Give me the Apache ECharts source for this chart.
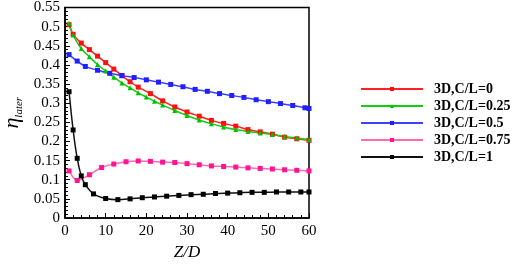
<!DOCTYPE html>
<html>
<head>
<meta charset="utf-8">
<script src="https://cdn.jsdelivr.net/npm/echarts@6/dist/echarts.min.js"></script>
<style>
  html, body { margin: 0; padding: 0; background: #fff; }
  #chart { width: 512px; height: 266px; }
</style>
</head>
<body>
<div id="chart"></div>
<script>
// series names
const names = ['3D,C/L=0', '3D,C/L=0.25', '3D,C/L=0.5', '3D,C/L=0.75', '3D,C/L=1'];

// C/L = 0
const redX = [1, 2, 4, 6, 8, 10, 12, 14, 16, 18, 21, 24, 27, 30, 33, 36, 39, 42, 45, 48, 51, 54, 57, 60];
const redY = [0.505, 0.48, 0.457, 0.44, 0.423, 0.406, 0.389, 0.372, 0.356, 0.342, 0.325, 0.306, 0.29, 0.277, 0.266, 0.255, 0.247, 0.24, 0.231, 0.225, 0.219, 0.211, 0.207, 0.203];

// C/L = 0.25
const greenX = [1, 2, 4, 6, 8, 10, 12, 14, 16, 18, 20, 22, 24, 27, 30, 33, 36, 39, 42, 45, 48, 51, 54, 57, 60];
const greenY = [0.509, 0.478, 0.443, 0.421, 0.401, 0.384, 0.368, 0.353, 0.34, 0.327, 0.316, 0.305, 0.295, 0.281, 0.268, 0.256, 0.246, 0.238, 0.231, 0.226, 0.222, 0.218, 0.213, 0.209, 0.205];

// C/L = 0.5
const blueX = [1, 3, 5, 8, 11, 14, 17, 20, 23, 26, 29, 32, 35, 38, 41, 44, 47, 50, 53, 56, 59, 60];
const blueY = [0.427, 0.41, 0.396, 0.386, 0.378, 0.372, 0.367, 0.361, 0.355, 0.349, 0.343, 0.336, 0.331, 0.325, 0.32, 0.315, 0.309, 0.304, 0.299, 0.294, 0.288, 0.286];

// C/L = 0.75
const pinkX = [1, 3, 6, 9, 12, 15, 18, 21, 24, 27, 30, 33, 36, 39, 42, 45, 48, 51, 54, 57, 60];
const pinkY = [0.123, 0.098, 0.113, 0.132, 0.141, 0.147, 0.149, 0.148, 0.146, 0.145, 0.142, 0.139, 0.136, 0.1345, 0.133, 0.131, 0.1296, 0.128, 0.126, 0.1246, 0.123];

// C/L = 1
const blackX = [1, 2, 3, 4, 5, 7, 10, 13, 16, 19, 22, 25, 28, 31, 34, 37, 40, 43, 46, 49, 52, 55, 58, 60];
const blackY = [0.33, 0.23, 0.156, 0.11, 0.087, 0.063, 0.051, 0.048, 0.05, 0.053, 0.055, 0.057, 0.059, 0.061, 0.062, 0.064, 0.065, 0.066, 0.067, 0.067, 0.068, 0.068, 0.068, 0.068];

const pairs = (xs, ys) => xs.map((x, i) => [x, ys[i]]);

const font = '"Liberation Serif", "Times New Roman", serif';

function makeLine(name, xs, ys, color, lineColor, symbol) {
  return {
    name: name,
    type: 'line',
    data: pairs(xs, ys),
    smooth: 0.3,
    symbol: symbol,
    symbolSize: 5,
    showSymbol: true,
    itemStyle: { color: color },
    lineStyle: { color: lineColor, width: 1.5 }
  };
}

const chart = echarts.init(document.getElementById('chart'), null, { renderer: 'canvas' });

chart.setOption({
  animation: false,
  backgroundColor: '#fff',
  grid: {
    left: 61, right: 203, top: 6, bottom: 38,
    show: true, borderColor: '#000', borderWidth: 1.5, backgroundColor: 'transparent'
  },
  legend: {
    orient: 'vertical',
    left: 360,
    top: 82,
    padding: 0,
    itemWidth: 62,
    itemHeight: 5,
    itemGap: 3,
    textStyle: {
      fontFamily: font, fontWeight: 'bold', fontSize: 14, color: '#000',
      lineHeight: 12, padding: [0, 0, 0, 6]
    },
    data: names
  },
  xAxis: {
    type: 'value',
    min: 0, max: 60, interval: 10,
    name: 'Z/D',
    nameLocation: 'middle',
    nameGap: 26,
    nameTextStyle: { fontFamily: font, fontStyle: 'italic', fontSize: 17, color: '#000' },
    axisLine: { lineStyle: { color: '#000', width: 1.5 } },
    axisTick: { inside: true, length: 5, lineStyle: { color: '#000' } },
    minorTick: { show: true, splitNumber: 5, length: 3, lineStyle: { color: '#000' } },
    axisLabel: { fontFamily: font, fontSize: 15, color: '#000', margin: 6 },
    splitLine: { show: false }
  },
  yAxis: {
    type: 'value',
    min: 0, max: 0.55, interval: 0.05,
    name: '{a|η}{b|later}',
    nameLocation: 'middle',
    nameRotate: 90,
    nameGap: 40,
    nameTextStyle: {
      rich: {
        a: { fontFamily: font, fontStyle: 'italic', fontSize: 22, color: '#000', lineHeight: 26 },
        b: { fontFamily: font, fontStyle: 'italic', fontSize: 11, color: '#000', verticalAlign: 'bottom', lineHeight: 16 }
      }
    },
    axisLine: { lineStyle: { color: '#000', width: 1.5 } },
    axisTick: { inside: true, length: 5, lineStyle: { color: '#000' } },
    minorTick: { show: true, splitNumber: 5, length: 3, lineStyle: { color: '#000' } },
    axisLabel: {
      fontFamily: font, fontSize: 15, color: '#000', margin: 5,
      formatter: v => String(Math.round(v * 100) / 100)
    },
    splitLine: { show: false }
  },
  series: [
    makeLine(names[0], redX, redY, '#ff1010', '#ff2020', 'rect'),
    makeLine(names[1], greenX, greenY, '#00c000', '#10d010', 'triangle'),
    makeLine(names[2], blueX, blueY, '#2020ff', '#4040ff', 'rect'),
    makeLine(names[3], pinkX, pinkY, '#ff1493', '#ff6ab4', 'rect'),
    makeLine(names[4], blackX, blackY, '#000', '#111', 'rect')
  ]
});
</script>
</body>
</html>
